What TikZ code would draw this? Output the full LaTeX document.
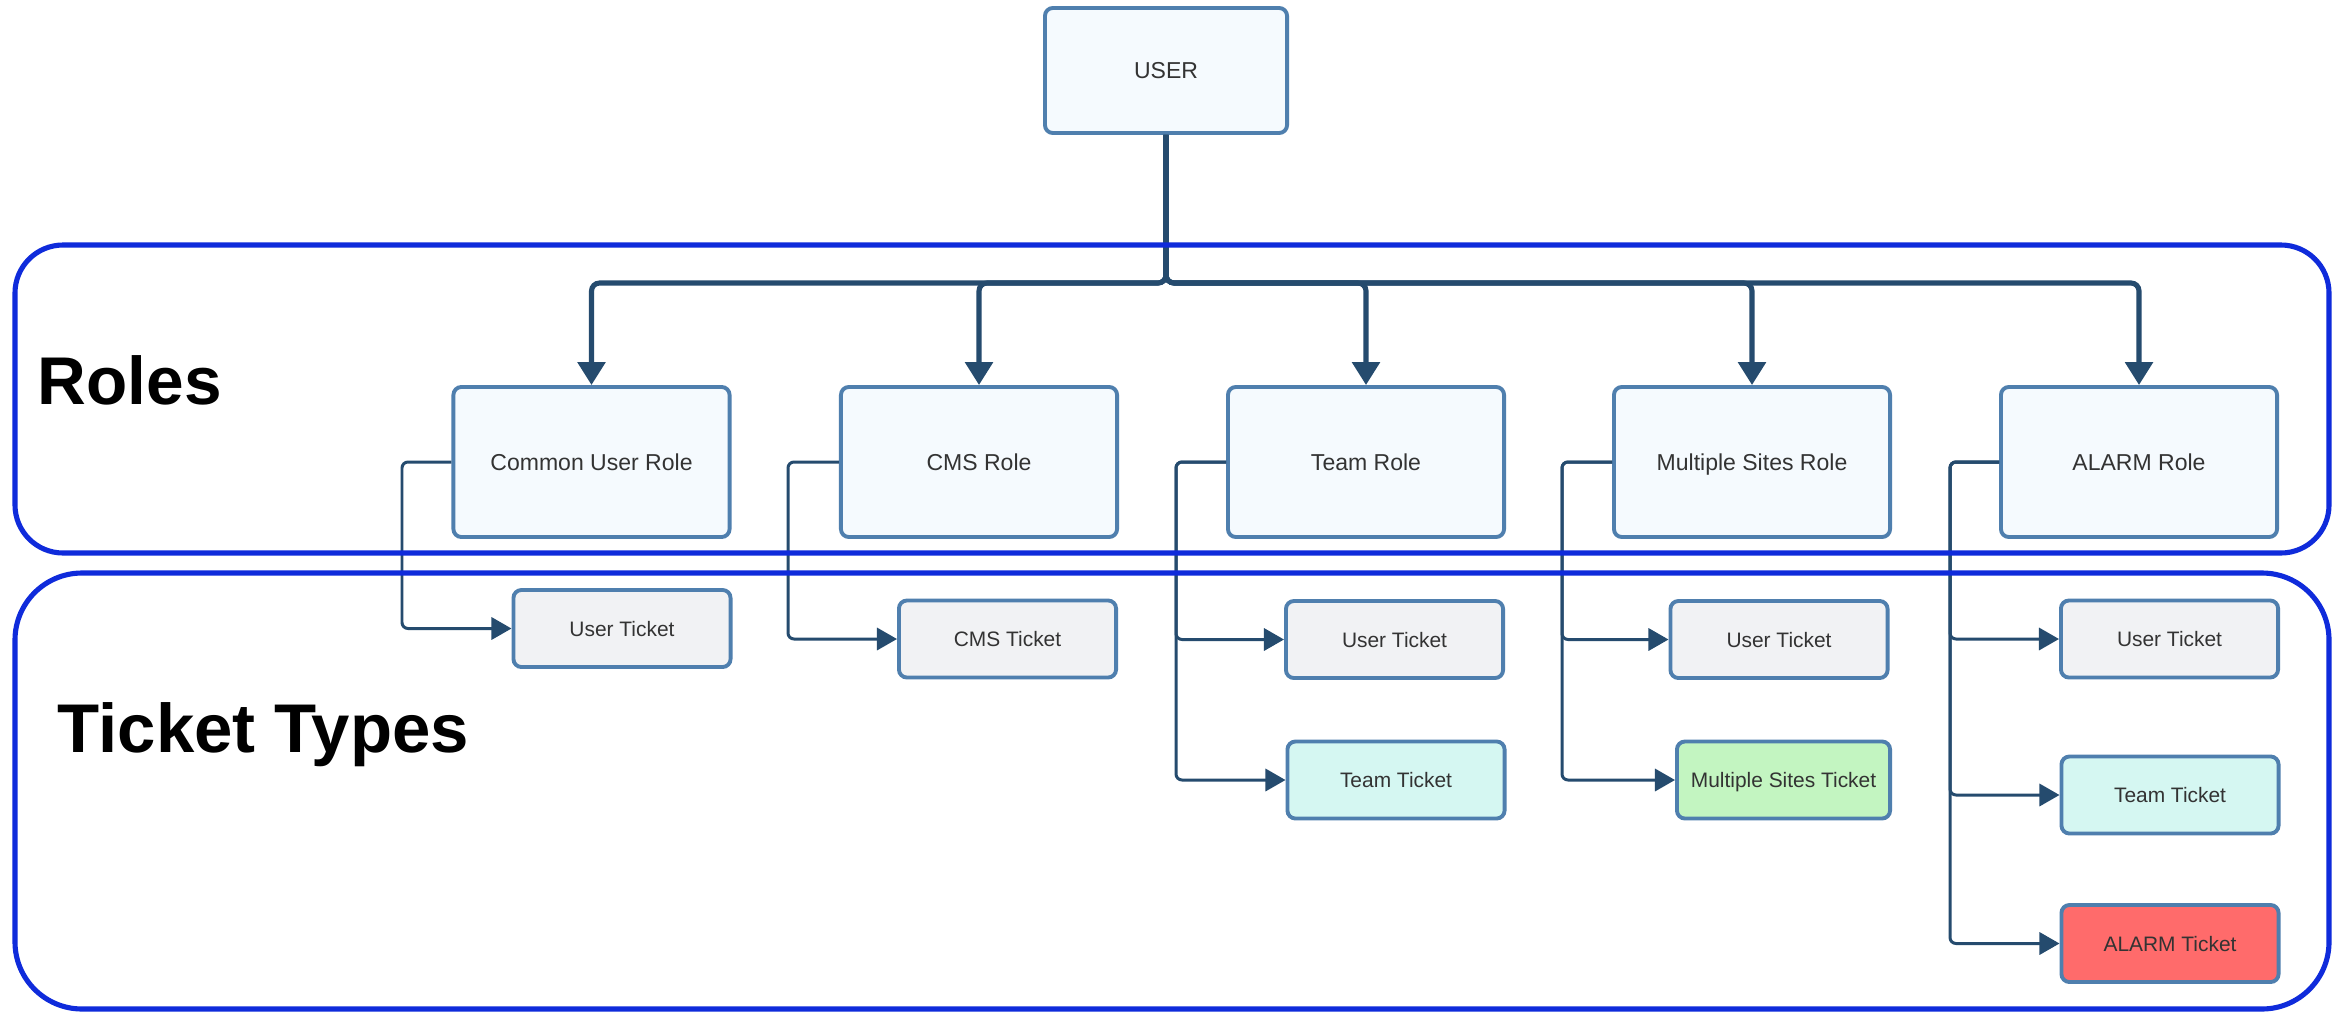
\documentclass[tikz,border=0pt]{standalone}
\usepackage{fontspec}
\setmainfont{Liberation Sans}
\usetikzlibrary{arrows.meta}

\definecolor{boxline}{HTML}{4F7FAE}
\definecolor{rolefill}{HTML}{F5FAFE}
\definecolor{ticketgrey}{HTML}{F1F2F4}
\definecolor{teamfill}{HTML}{D5F7F2}
\definecolor{msfill}{HTML}{C3F5C1}
\definecolor{alarmfill}{HTML}{FF6B6B}
\definecolor{linkblue}{HTML}{254B6E}
\definecolor{regionblue}{HTML}{0F2BDB}
\definecolor{textgrey}{HTML}{333333}

\begin{document}
\begin{tikzpicture}[x=0.01cm,y=-0.01cm,
  region/.style={draw=regionblue,line width=1.45pt,rounded corners=#1},
  heading/.style={anchor=base west,inner sep=0pt,text=black,
    font=\fontsize{19.2}{23}\bfseries\selectfont},
  rolebox/.style={draw=boxline,line width=1.1pt,fill=rolefill,
    rounded corners=0.08cm,minimum width=2.76cm,minimum height=1.5cm,
    inner sep=0pt,text=textgrey,text height=4.7pt,text depth=0pt,
    font=\fontsize{6.55}{8}\selectfont},
  ticket/.style={rolebox,fill=ticketgrey,minimum width=2.17cm,
    minimum height=0.77cm,text height=4.3pt,
    font=\fontsize{5.95}{7}\selectfont},
  bus/.style={draw=linkblue,line width=1.45pt,rounded corners=0.08cm,
    -{Triangle[width=7.7pt,length=6.5pt]}},
  conn/.style={draw=linkblue,line width=0.85pt,rounded corners=0.06cm,
    -{Triangle[width=6.3pt,length=5.7pt]}}]

\fill[white] (0,0) rectangle (2336,1012);
\useasboundingbox (0,0) rectangle (2336,1012);

% user and roles
\node[rolebox,minimum width=2.42cm,minimum height=1.25cm] (user) at (1166,70.5) {USER};
\node[rolebox] (cur)   at (591.5,462) {Common User Role};
\node[rolebox] (cmsr)  at (979,462)   {CMS Role};
\node[rolebox] (teamr) at (1366,462)  {Team Role};
\node[rolebox] (msr)   at (1752,462)  {Multiple Sites Role};
\node[rolebox] (alr)   at (2139,462)  {ALARM Role};

% ticket types
\node[ticket] (cu1)  at (622,628.5)   {User Ticket};
\node[ticket] (cms1) at (1007.5,639)  {CMS Ticket};
\node[ticket] (tm1)  at (1394.5,639.5) {User Ticket};
\node[ticket,fill=teamfill] (tm2) at (1396,780) {Team Ticket};
\node[ticket] (ms1)  at (1779,639.5)  {User Ticket};
\node[ticket,fill=msfill,minimum width=2.13cm] (ms2) at (1783.5,780) {Multiple Sites Ticket};
\node[ticket] (al1)  at (2169.5,639)  {User Ticket};
\node[ticket,fill=teamfill] (al2) at (2170,795) {Team Ticket};
\node[ticket,fill=alarmfill] (al3) at (2170,943.5) {ALARM Ticket};

% user to roles
\coordinate (bus) at (1166,283);
\foreach \r in {cur,cmsr,teamr,msr,alr}
  \draw[bus] (user.south) -- (bus) -| (\r.north);

% roles to tickets
\coordinate (k1) at (402,462);
\coordinate (k2) at (788,462);
\coordinate (k3) at (1176,462);
\coordinate (k4) at (1562,462);
\coordinate (k5) at (1950,462);
\draw[conn] (cur.west) -- (k1) |- (cu1.west);
\draw[conn] (cmsr.west) -- (k2) |- (cms1.west);
\draw[conn] (teamr.west) -- (k3) |- (tm1.west);
\draw[conn] (teamr.west) -- (k3) |- (tm2.west);
\draw[conn] (msr.west) -- (k4) |- (ms1.west);
\draw[conn] (msr.west) -- (k4) |- (ms2.west);
\draw[conn] (alr.west) -- (k5) |- (al1.west);
\draw[conn] (alr.west) -- (k5) |- (al2.west);
\draw[conn] (alr.west) -- (k5) |- (al3.west);

% layer frames
\draw[region=0.48cm] (15,245) rectangle (2329,553);
\draw[region=0.67cm] (15,573) rectangle (2329,1009);
\node[heading] (roleslabel) at (37,404) {Roles};
\node[heading,font=\fontsize{19.6}{23}\bfseries\selectfont] (typeslabel) at (57,752) {Ticket Types};

\end{tikzpicture}
\end{document}
